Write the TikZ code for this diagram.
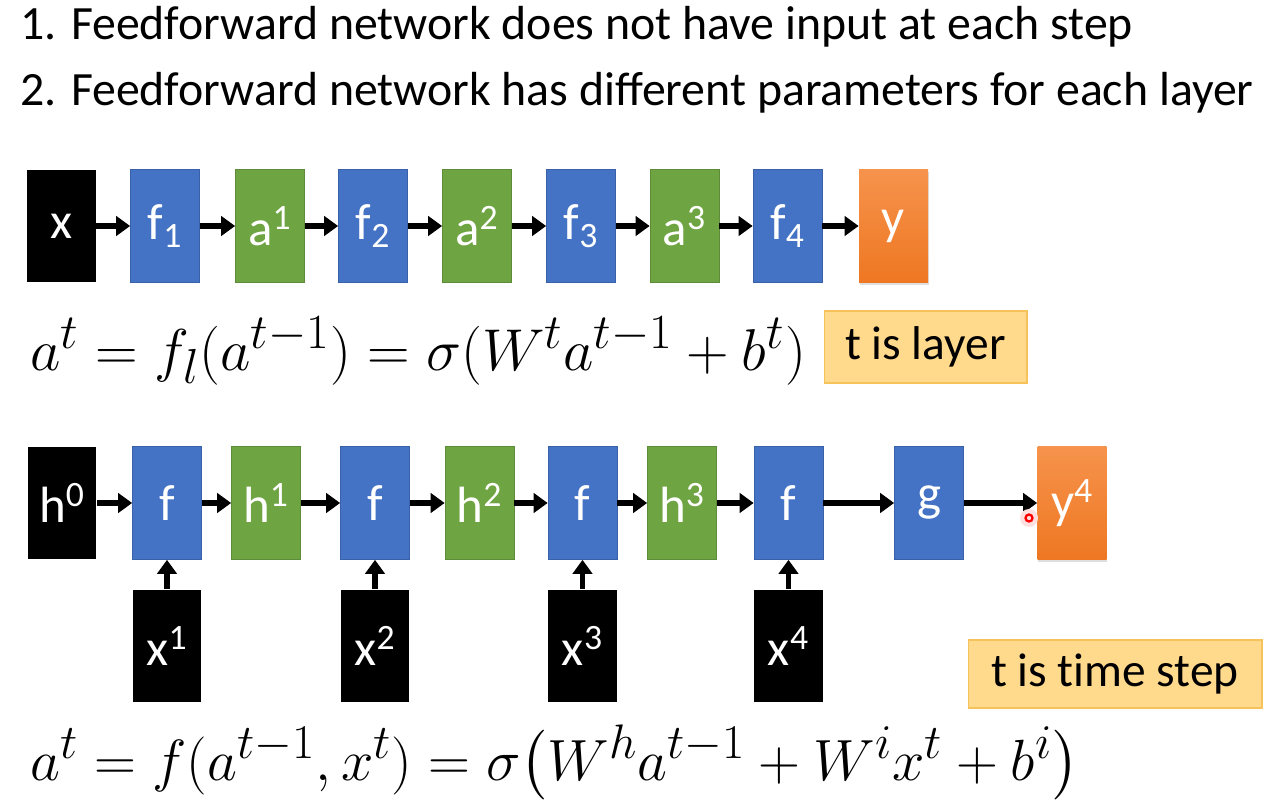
\documentclass[tikz,border=0pt]{standalone}
\usepackage{amsmath}
\usepackage{graphicx}
\usepackage{fontspec}
\setmainfont{Carlito}
\newfontfamily\notefont{Carlito}[Ligatures=NoCommon]
\usepackage{tikz}
\usetikzlibrary{arrows.meta,positioning,shadows}
\definecolor{boxblue}{HTML}{4472C4}
\definecolor{boxgreen}{HTML}{6FA443}
\definecolor{outtop}{HTML}{F6934C}
\definecolor{outbot}{HTML}{EE7722}
\definecolor{notefill}{HTML}{FFD98C}
\definecolor{notedraw}{HTML}{F6C35A}

\begin{document}
\begin{tikzpicture}[x=0.02cm,y=-0.02cm,
  blk/.style={rectangle,minimum width=1.38cm,minimum height=2.26cm,inner sep=0pt,text=white,font=\fontsize{29}{32}\selectfont},
  inp/.style={blk,fill=black},
  fun/.style={blk,fill=boxblue,draw=boxblue!85!black,line width=0.4pt},
  hid/.style={blk,fill=boxgreen,draw=boxgreen!85!black,line width=0.4pt},
  outp/.style={blk,top color=outtop,bottom color=outbot,drop shadow={opacity=0.25,shadow xshift=0.5pt,shadow yshift=-1.5pt}},
  note/.style={rectangle,fill=notefill,draw=notedraw,line width=0.6pt,inner sep=0pt,font=\notefont\fontsize{27}{30}\selectfont},
  eqn/.style={anchor=base west,inner sep=0pt,font=\fontsize{24.88}{30}\selectfont},
  arr/.style={-{Triangle[length=8pt,width=11pt]},line width=3.2pt}]
  \useasboundingbox (0,0) rectangle (1274,804);

  % the two statements
  \node[anchor=base west,inner sep=0pt,font=\fontsize{27.2}{30}\selectfont] (st1) at (20,40) {1. Feedforward network does not have input at each step};
  \node[anchor=base west,inner sep=0pt,font=\fontsize{27.2}{30}\selectfont] (st2) at (20,106) {2. Feedforward network has different parameters for each layer};

  % feedforward network
  \node[inp] (x) at (61.5,226) {x};
  \node[fun] (f1) at (165,226) {f\textsubscript{1}};
  \node[hid] (a1) at (270,226) {a\textsuperscript{1}};
  \node[fun] (f2) at (373,226) {f\textsubscript{2}};
  \node[hid] (a2) at (477,226) {a\textsuperscript{2}};
  \node[fun] (f3) at (581,226) {f\textsubscript{3}};
  \node[hid] (a3) at (684.5,226) {a\textsuperscript{3}};
  \node[fun] (f4) at (787.5,226) {f\textsubscript{4}};
  \node[outp] (y) at (893.5,226) {y};
  \draw[arr] (x) -- (f1);
  \draw[arr] (f1) -- (a1);
  \draw[arr] (a1) -- (f2);
  \draw[arr] (f2) -- (a2);
  \draw[arr] (a2) -- (f3);
  \draw[arr] (f3) -- (a3);
  \draw[arr] (a3) -- (f4);
  \draw[arr] (f4) -- (y);

  \node[eqn] (eqff) at (30,370) {\scalebox{1.35}{$a^t = f_l(a^{t-1}) = \sigma(W^t a^{t-1} + b^t)$}};
  \node[note,minimum width=4.06cm,minimum height=1.44cm] (lay) at (925.5,347) {t is layer};

  % recurrent network
  \node[inp] (h0) at (62,503) {h\textsuperscript{0}};
  \node[fun] (fa) at (167,503) {f};
  \node[hid] (h1) at (266,503) {h\textsuperscript{1}};
  \node[fun] (fb) at (375,503) {f};
  \node[hid] (h2) at (479.5,503) {h\textsuperscript{2}};
  \node[fun] (fc) at (582.5,503) {f};
  \node[hid] (h3) at (682,503) {h\textsuperscript{3}};
  \node[fun] (fd) at (788.5,503) {f};
  \node[fun] (g) at (929,503) {g};
  \node[outp] (y4) at (1072,503) {y\textsuperscript{4}};
  \node[inp] (x1) at (167,646) {x\textsuperscript{1}};
  \node[inp] (x2) at (375,646) {x\textsuperscript{2}};
  \node[inp] (x3) at (582.5,646) {x\textsuperscript{3}};
  \node[inp] (x4) at (788.5,646) {x\textsuperscript{4}};
  \draw[arr] (h0) -- (fa);
  \draw[arr] (fa) -- (h1);
  \draw[arr] (h1) -- (fb);
  \draw[arr] (fb) -- (h2);
  \draw[arr] (h2) -- (fc);
  \draw[arr] (fc) -- (h3);
  \draw[arr] (h3) -- (fd);
  \draw[arr] (fd) -- (g);
  \draw[arr] (g) -- (y4);
  \draw[arr] (x1) -- (fa);
  \draw[arr] (x2) -- (fb);
  \draw[arr] (x3) -- (fc);
  \draw[arr] (x4) -- (fd);
  \node[circle,fill=red!12,inner sep=0pt,minimum size=0.36cm] (glow) at (1029,518) {};
  \node[circle,draw=red,line width=1.3pt,inner sep=0pt,minimum size=0.14cm] (ptr) at (1029,518) {};

  \node[note,minimum width=5.88cm,minimum height=1.36cm] (tim) at (1115,674) {t is time step};
  \node[eqn] (eqrnn) at (30,780) {\scalebox{1.33}{$a^t = f(a^{t-1},x^t) = \sigma\bigl(W^h a^{t-1} + W^i x^t + b^i\bigr)$}};
\end{tikzpicture}
\end{document}
